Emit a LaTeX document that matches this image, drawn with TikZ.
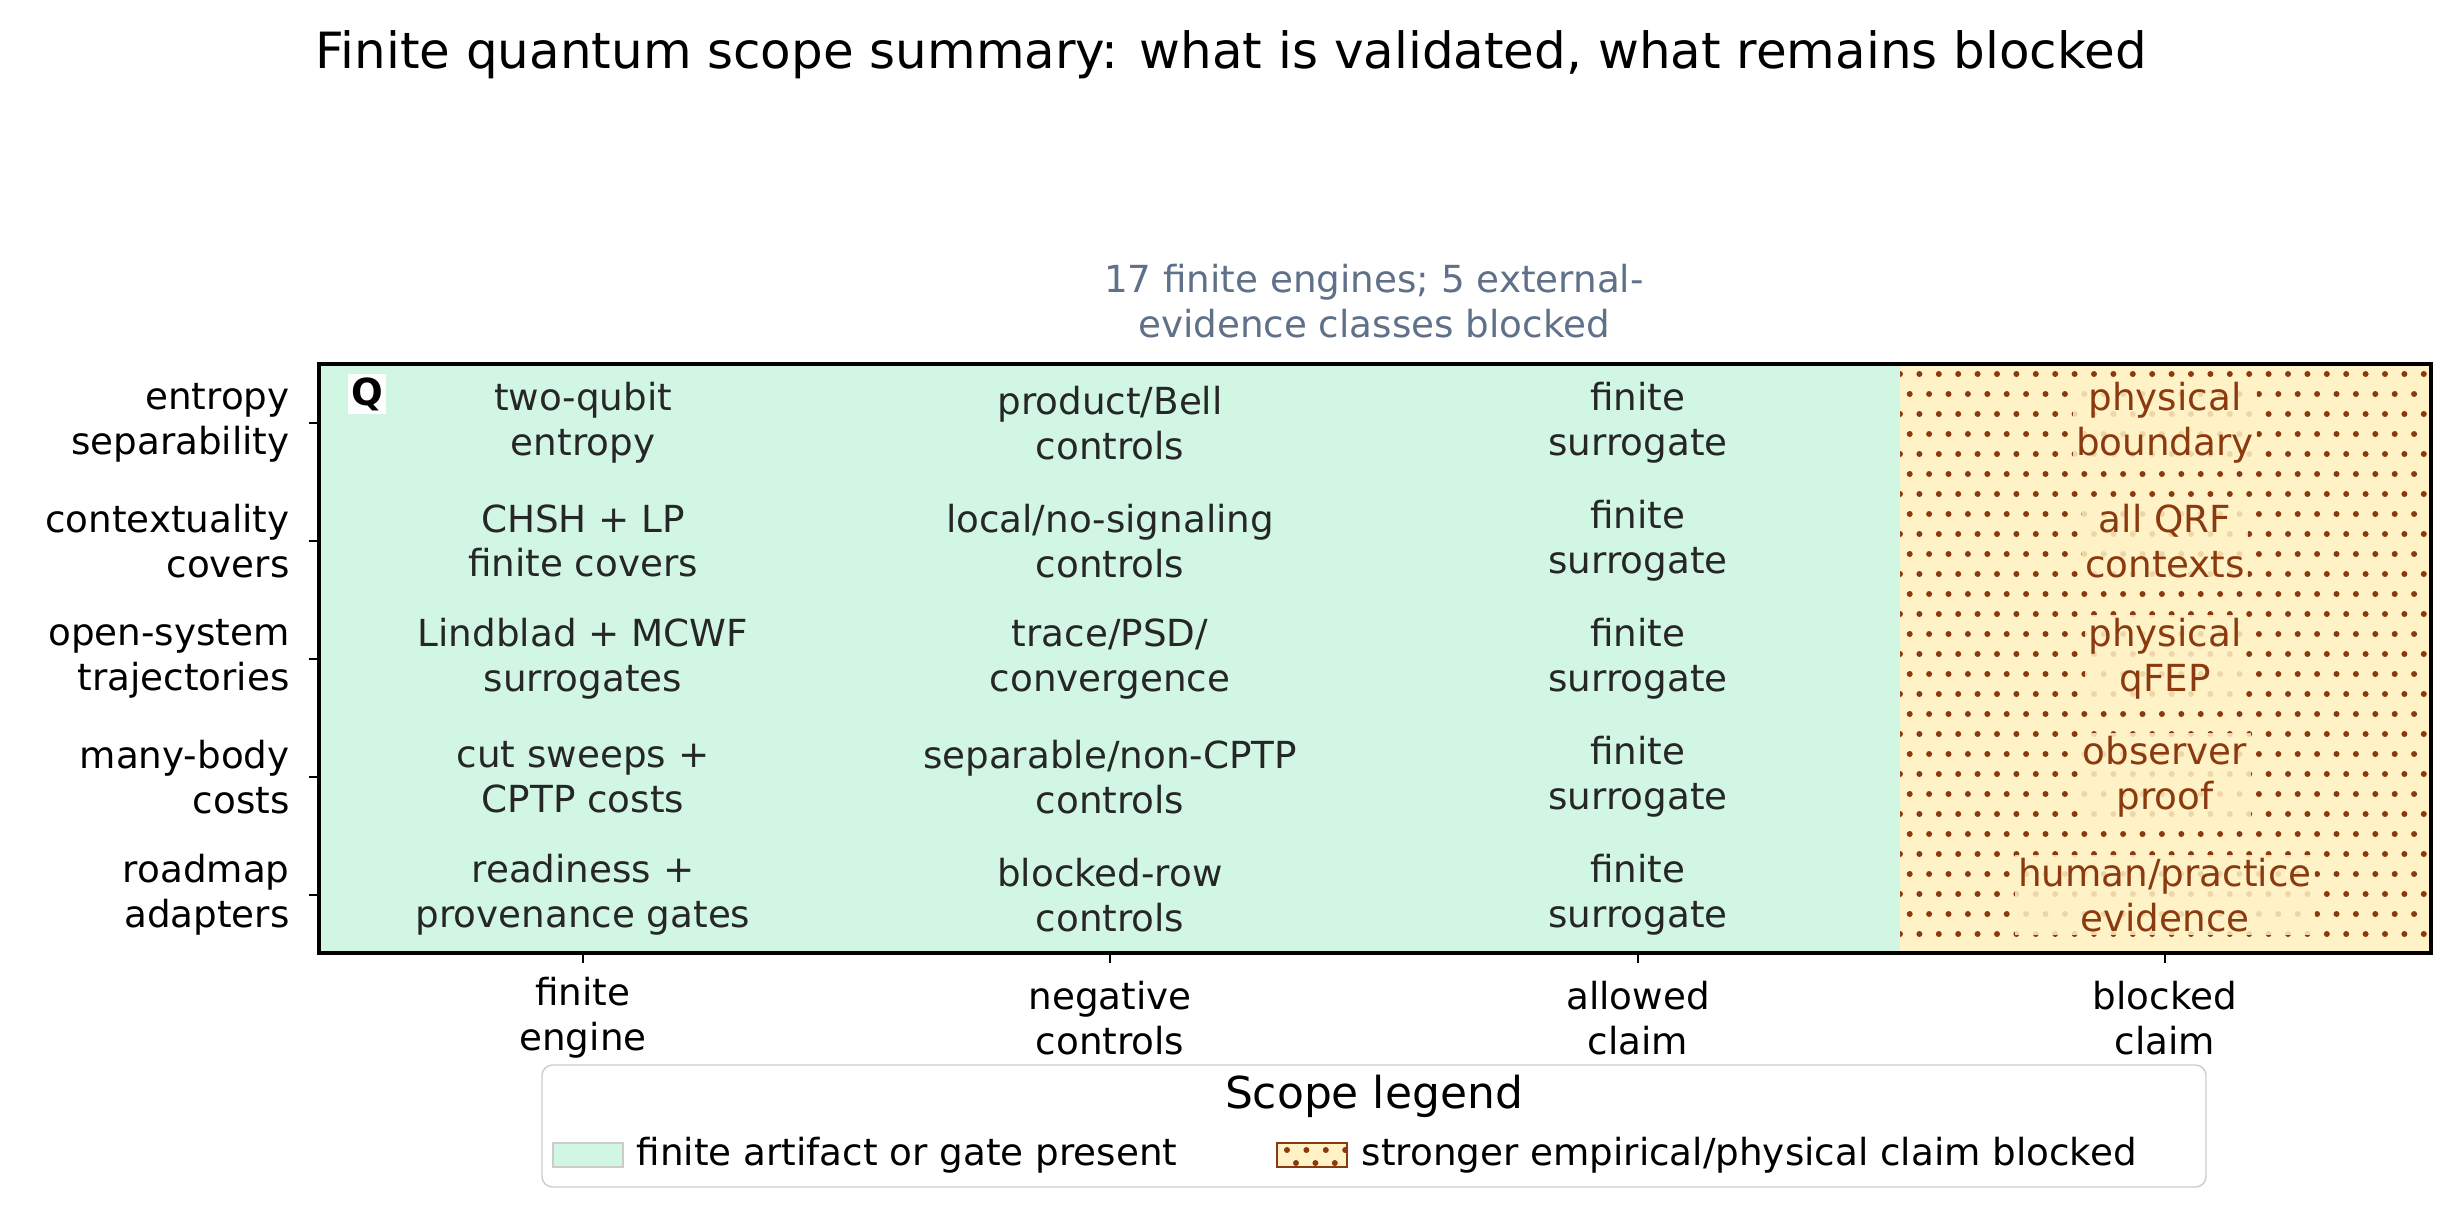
\documentclass[tikz,border=0pt]{standalone}
\usepackage{fontspec}
\setmainfont{DejaVu Sans}
\begin{document}
\begin{tikzpicture}[x=0.01cm,y=-0.01cm,
  cell/.style={align=center,font=\fontsize{10.6}{12.7}\selectfont,text=black!85},
  blk/.style={align=center,font=\fontsize{10.6}{12.7}\selectfont,text=brn,fill=ylw,fill opacity=0.85,text opacity=1,inner sep=1pt},
  tick/.style={align=right,font=\fontsize{10.6}{12.7}\selectfont,anchor=east},
  xtick/.style={align=center,font=\fontsize{10.6}{12.7}\selectfont}]
\definecolor{grn}{HTML}{D1F7E4}
\definecolor{ylw}{HTML}{FFF2C6}
\definecolor{brn}{HTML}{8B3A0F}
\definecolor{slate}{HTML}{5F7089}
\useasboundingbox (0,0) rectangle (2462,1221);
\fill[grn] (319,364) rectangle (1900,953);
\fill[ylw] (1900,364) rectangle (2431,953);
\begin{scope}
\clip (1900,364) rectangle (2431,953);
\foreach \r in {0,...,30}{
  \pgfmathsetmacro{\off}{mod(\r,2)*9.7}
  \foreach \c in {0,...,28}{
    \fill[brn] (1900+\off+\c*19.4,374+\r*20) circle (3);
  }}
\end{scope}
\draw[line width=1.2pt] (319,364) rectangle (2431,953);
\node[font=\fontsize{14.2}{17}\selectfont] (title) at (1231,55) {Finite quantum scope summary: what is validated, what remains blocked};
\node[align=center,text=slate,font=\fontsize{10.6}{12.7}\selectfont] (sub) at (1374,301) {17 finite engines; 5 external-\\evidence classes blocked};
\node[fill=white,inner sep=1pt,font=\bfseries\fontsize{10.6}{12.7}\selectfont] (q) at (367,394) {Q};
% rows
\foreach \y/\a/\b/\c/\d/\e [count=\i] in {
 423/entropy\\separability/two-qubit\\entropy/product\slash Bell\\controls/physical\\boundary/,
 541/contextuality\\covers/CHSH + LP\\finite covers/local\slash no-signaling\\controls/all QRF\\contexts/,
 659/open-system\\trajectories/Lindblad + MCWF\\surrogates/trace\slash PSD\slash\\convergence/physical\\qFEP/,
 777/many-body\\costs/cut sweeps +\\CPTP costs/separable\slash non-CPTP\\controls/observer\\proof/,
 895/roadmap\\adapters/readiness +\\provenance gates/blocked-row\\controls/human\slash practice\\evidence/}{
  \draw (309,\y) -- (319,\y);
  \node[tick] (r\i) at (302,\y) {\a};
  \node[cell] (e\i) at (583,\y) {\b};
  \node[cell] (n\i) at (1110,\y) {\c};
  \node[cell] (a\i) at (1638,\y) {finite\\surrogate};
  \node[blk] (b\i) at (2165,\y) {\d};
}
\foreach \x/\t [count=\i] in {583/finite\\engine,1110/negative\\controls,1638/allowed\\claim,2165/blocked\\claim}{
  \draw (\x,953) -- (\x,963);
  \node[xtick] (c\i) at (\x,1018) {\t};
}
% legend
\draw[black!20,fill=white,rounded corners=3] (542,1065) rectangle (2206,1187);
\node[font=\fontsize{12.5}{15}\selectfont] (lt) at (1374,1096) {Scope legend};
\draw[black!20,fill=grn] (553,1143) rectangle (623,1167);
\node[anchor=west,font=\fontsize{10.6}{12.7}\selectfont,inner sep=0] (l1) at (636,1155) {finite artifact or gate present};
\begin{scope}
\fill[ylw] (1277,1143) rectangle (1347,1167);
\clip (1277,1143) rectangle (1347,1167);
\foreach \c in {0,...,3}{\fill[brn] (1287+\c*19.4,1150) circle (3);}
\foreach \c in {0,...,3}{\fill[brn] (1296+\c*19.4,1163) circle (3);}
\end{scope}
\draw[brn,line width=0.8pt] (1277,1143) rectangle (1347,1167);
\node[anchor=west,font=\fontsize{10.6}{12.7}\selectfont,inner sep=0] (l2) at (1361,1155) {stronger empirical/physical claim blocked};
\end{tikzpicture}
\end{document}
